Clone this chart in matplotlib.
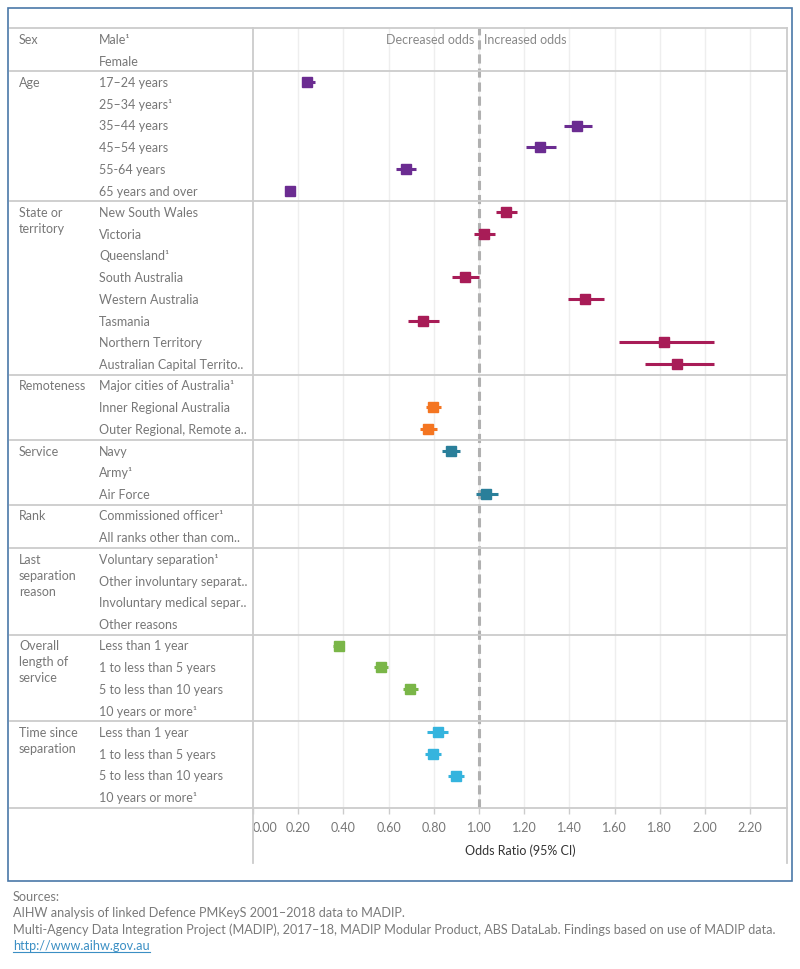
import matplotlib
matplotlib.use("Agg")
import matplotlib.pyplot as plt
import matplotlib.transforms as mtransforms
from matplotlib.lines import Line2D
import numpy as np

plt.rcParams['font.family'] = ['Lato', 'DejaVu Sans']

# ---------------- data ----------------
sections = ["Sex", "Age", "State or\nterritory", "Remoteness", "Service", "Rank",
            "Last\nseparation\nreason", "Overall\nlength of\nservice", "Time since\nseparation"]
section_items = [
    ["Male¹", "Female"],
    ["17–24 years", "25–34 years¹", "35–44 years", "45–54 years", "55-64 years", "65 years and over"],
    ["New South Wales", "Victoria", "Queensland¹", "South Australia", "Western Australia",
     "Tasmania", "Northern Territory", "Australian Capital Territo.."],
    ["Major cities of Australia¹", "Inner Regional Australia", "Outer Regional, Remote a.."],
    ["Navy", "Army¹", "Air Force"],
    ["Commissioned officer¹", "All ranks other than com.."],
    ["Voluntary separation¹", "Other involuntary separat..", "Involuntary medical separ..", "Other reasons"],
    ["Less than 1 year", "1 to less than 5 years", "5 to less than 10 years", "10 years or more¹"],
    ["Less than 1 year", "1 to less than 5 years", "5 to less than 10 years", "10 years or more¹"],
]
section_colors = ["#6b2c91", "#6b2c91", "#a81c57", "#f47521", "#2a7f9a", "#6b2c91",
                  "#6b2c91", "#7ab648", "#35b4de"]

odds = [
    [None, None],
    [0.24, None, 1.435, 1.27, 0.675, 0.163],
    [1.12, 1.023, None, 0.94, 1.47, 0.753, 1.817, 1.878],
    [None, 0.797, 0.775],
    [0.876, None, 1.032],
    [None, None],
    [None, None, None, None],
    [0.38, 0.566, 0.695, None],
    [0.818, 0.797, 0.899, None],
]
ci_low = [
    [None, None],
    [0.225, None, 1.374, 1.206, 0.634, 0.150],
    [1.076, 0.976, None, 0.882, 1.395, 0.687, 1.618, 1.733],
    [None, 0.766, 0.740],
    [0.838, None, 0.988],
    [None, None],
    [None, None, None, None],
    [0.355, 0.536, 0.664, None],
    [0.771, 0.762, 0.864, None],
]
ci_high = [
    [None, None],
    [0.273, None, 1.498, 1.342, 0.722, 0.178],
    [1.169, 1.072, None, 1.0, 1.551, 0.824, 2.038, 2.038],
    [None, 0.834, 0.815],
    [0.918, None, 1.085],
    [None, None],
    [None, None, None, None],
    [0.39, 0.598, 0.731, None],
    [0.864, 0.834, 0.934, None],
]
xticks = [0.0, 0.2, 0.4, 0.6, 0.8, 1.0, 1.2, 1.4, 1.6, 1.8, 2.0, 2.2]
xticklabels = ["0.00", "0.20", "0.40", "0.60", "0.80", "1.00", "1.20", "1.40",
               "1.60", "1.80", "2.00", "2.20"]

# ---------------- layout ----------------
W, H = 800, 970
fig = plt.figure(figsize=(W / 100, H / 100), dpi=100)
px_l, px_r, px_t, px_b = 253, 787, 29, 809
ax = fig.add_axes([px_l / W, 1 - px_b / H, (px_r - px_l) / W, (px_b - px_t) / H])
n_rows = sum(len(s) for s in section_items)
ax.set_xlim(0, (px_r - px_l) / 226.0)
ax.set_ylim(n_rows - 0.5, -0.5)
for s in ax.spines.values():
    s.set_visible(False)
ax.set_yticks([])

FS = 9
text_col = "#777777"
line_col = "#cccccc"
grid_col = "#eeeeee"

for t in xticks[1:]:
    ax.axvline(t, color=grid_col, lw=1, zorder=0)

ax.axvline(1.0, color="#b0b0b0", lw=2.2, ls=(0, (3, 1.6)), zorder=1)

ax.text(0.98, 0, "Decreased odds", ha="right", va="center", color="#888888", fontsize=FS)
ax.text(1.02, 0, "Increased odds", ha="left", va="center", color="#888888", fontsize=FS)

blend = mtransforms.blended_transform_factory(fig.transFigure, ax.transData)
row = 0
bounds = [-0.5]
for si, items in enumerate(section_items):
    ax.text(-234 / 226.0, row, sections[si], ha="left", va="top", color=text_col,
            fontsize=FS, linespacing=1.4,
            transform=mtransforms.offset_copy(ax.transData, fig=fig, x=0, y=6, units="dots"))
    for ii, lab in enumerate(items):
        y = row + ii
        ax.text(-154 / 226.0, y, lab, ha="left", va="center", color=text_col, fontsize=FS,
                clip_on=False)
        v = odds[si][ii]
        if v is not None:
            c = section_colors[si]
            ax.plot([ci_low[si][ii], ci_high[si][ii]], [y, y], color=c, lw=2.2,
                    solid_capstyle="butt", zorder=3)
            ax.plot([v], [y], marker="s", ms=7.3, color=c, mec=c, zorder=4)
    row += len(items)
    bounds.append(row - 0.5)

for b in bounds:
    fig.add_artist(Line2D([10 / W, px_r / W], [b, b], transform=blend, color=line_col, lw=1.3))

ext = (864 - px_b) / (px_b - px_t)
for xv in [0.0, 1.0]:
    ax.add_line(Line2D([xv, xv], [1, -ext], transform=ax.transAxes, color=line_col,
                       lw=1.3, clip_on=False))

ax.set_xticks(xticks)
ax.set_xticklabels(xticklabels)
ax.tick_params(axis="x", colors=line_col, labelcolor=text_col, labelsize=FS,
               length=4, width=1, pad=5)
labs = ax.get_xticklabels()
labs[0].set_horizontalalignment("left")
ax.set_xlabel("Odds Ratio (95% CI)", fontsize=FS, color="#333333", labelpad=8)

fig.add_artist(plt.Rectangle((8 / W, 1 - 882 / H), (792 - 8) / W, (882 - 9) / H,
                             transform=fig.transFigure, fill=False, ec="#4a78a8", lw=1.2))

foot = ["Sources:",
        "AIHW analysis of linked Defence PMKeyS 2001–2018 data to MADIP.",
        "Multi-Agency Data Integration Project (MADIP), 2017–18, MADIP Modular Product, ABS DataLab. Findings based on use of MADIP data."]
for i, t in enumerate(foot):
    fig.text(13 / W, 1 - (897 + 16.4 * i) / H, t, ha="left", va="center",
             color="#7a7a7a", fontsize=9.1)
url = fig.text(13 / W, 1 - 946 / H, "http://www.aihw.gov.au", ha="left", va="center",
               color="#3b8fc4", fontsize=9.1, url="http://www.aihw.gov.au")
fig.canvas.draw()
bb = url.get_window_extent()
fig.add_artist(Line2D([bb.x0 / W, bb.x1 / W], [1 - 953 / H, 1 - 953 / H],
                      transform=fig.transFigure, color="#3b8fc4", lw=0.8))

fig.savefig("out.png", dpi=100)
